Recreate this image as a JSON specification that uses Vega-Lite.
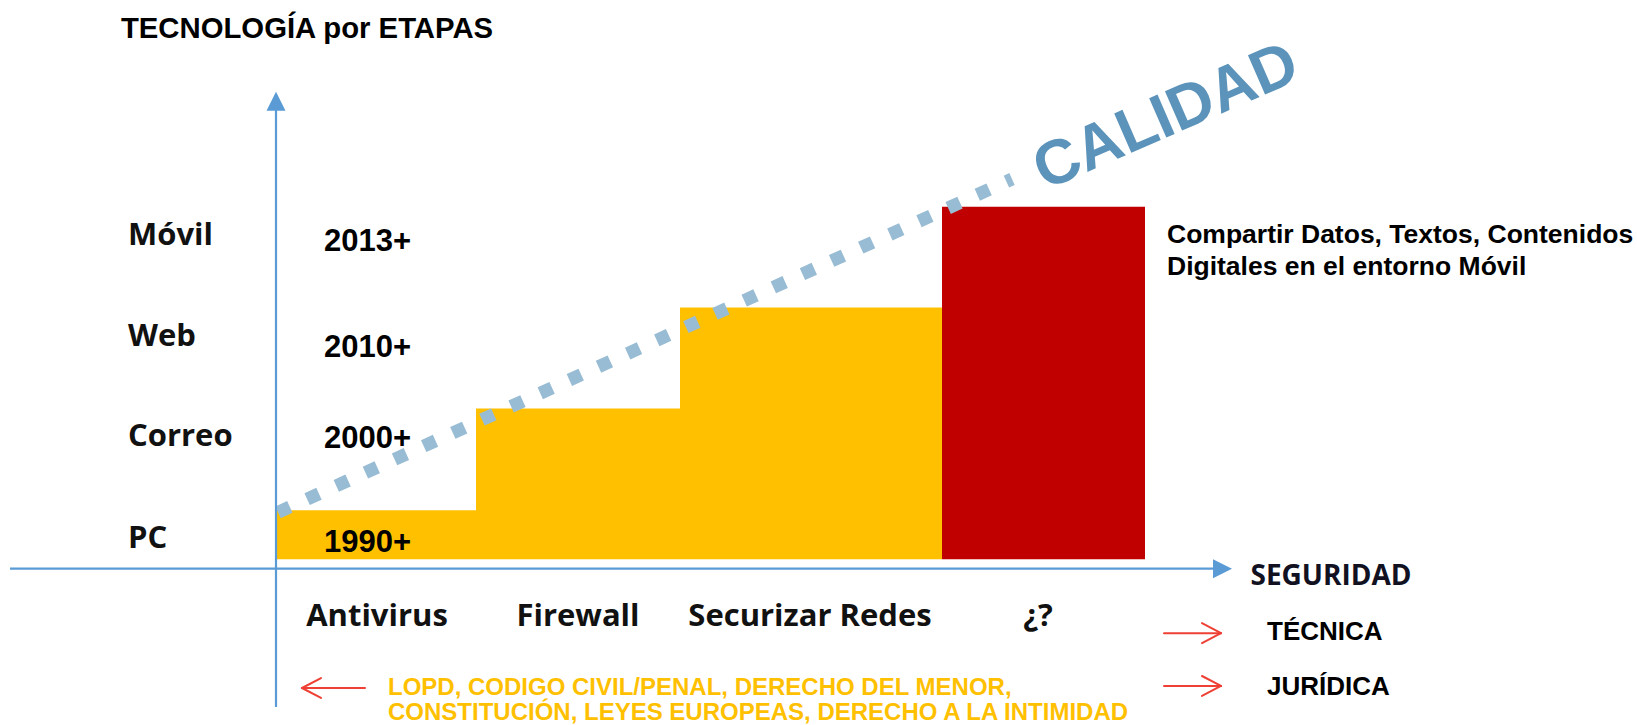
{
  "$schema": "https://vega.github.io/schema/vega-lite/v6.json",
  "width": 1637,
  "height": 725,
  "autosize": {"type": "fit", "contains": "padding"},
  "padding": 0,
  "background": "white",
  "config": {"view": {"stroke": null}},
  "datasets": {
    "etapas": [
      {"seguridad": "Antivirus", "tecnologia": "PC", "periodo": "1990+", "inicio": 0, "fin": 1.0, "nivel": 0.485, "medio": 0.505, "y_tec": 0.198, "y_periodo": 0.158, "estado": "conocida"},
      {"seguridad": "Firewall", "tecnologia": "Correo", "periodo": "2000+", "inicio": 1.0, "fin": 2.02, "nivel": 1.495, "medio": 1.51, "y_tec": 1.208, "y_periodo": 1.188, "estado": "conocida"},
      {"seguridad": "Securizar Redes", "tecnologia": "Web", "periodo": "2010+", "inicio": 2.02, "fin": 3.33, "nivel": 2.495, "medio": 2.67, "y_tec": 2.208, "y_periodo": 2.099, "estado": "conocida"},
      {"seguridad": "¿?", "tecnologia": "Móvil", "periodo": "2013+", "inicio": 3.33, "fin": 4.345, "nivel": 3.495, "medio": 3.81, "y_tec": 3.208, "y_periodo": 3.149, "estado": "incógnita"}
    ],
    "ejes": [
      {"eje": "vertical", "x": 0, "y": -1.465, "x2": 0, "y2": 4.6, "xp": 0, "yp": 4.634},
      {"eje": "horizontal", "x": -1.33, "y": -0.094, "x2": 4.76, "y2": -0.094, "xp": 4.78, "yp": -0.094}
    ],
    "flechas": [
      {"nombre": "técnica", "x": 4.44, "y": -0.733, "x2": 4.725, "y2": -0.733},
      {"nombre": "técnica", "x": 4.63, "y": -0.634, "x2": 4.725, "y2": -0.733},
      {"nombre": "técnica", "x": 4.63, "y": -0.832, "x2": 4.725, "y2": -0.733},
      {"nombre": "jurídica", "x": 4.44, "y": -1.257, "x2": 4.725, "y2": -1.257},
      {"nombre": "jurídica", "x": 4.63, "y": -1.158, "x2": 4.725, "y2": -1.257},
      {"nombre": "jurídica", "x": 4.63, "y": -1.356, "x2": 4.725, "y2": -1.257},
      {"nombre": "ley", "x": 0.445, "y": -1.277, "x2": 0.13, "y2": -1.277},
      {"nombre": "ley", "x": 0.225, "y": -1.178, "x2": 0.13, "y2": -1.277},
      {"nombre": "ley", "x": 0.225, "y": -1.376, "x2": 0.13, "y2": -1.277}
    ]
  },
  "layer": [
    {
      "data": {"name": "etapas"},
      "mark": {"type": "rect"},
      "encoding": {
        "x": {"field": "inicio", "type": "quantitative", "scale": {"domain": [-1.38, 6.805], "nice": false, "zero": false}, "axis": null},
        "x2": {"field": "fin"},
        "y": {"field": "nivel", "type": "quantitative", "scale": {"domain": [-1.634, 5.545], "nice": false, "zero": false}, "axis": null},
        "y2": {"datum": 0},
        "color": {"field": "estado", "type": "nominal", "scale": {"domain": ["conocida", "incógnita"], "range": ["#FFC000", "#C00000"]}, "legend": null}
      }
    },
    {
      "data": {"name": "etapas"},
      "mark": {"type": "text", "align": "left", "baseline": "middle", "font": "Open Sans", "fontWeight": "bold", "fontSize": 31, "color": "#111111"},
      "encoding": {
        "x": {"datum": -0.74, "type": "quantitative", "scale": {"domain": [-1.38, 6.805], "nice": false, "zero": false}, "axis": null},
        "y": {"field": "y_tec", "type": "quantitative", "scale": {"domain": [-1.634, 5.545], "nice": false, "zero": false}, "axis": null},
        "text": {"field": "tecnologia"}
      }
    },
    {
      "data": {"name": "etapas"},
      "mark": {"type": "text", "align": "left", "baseline": "middle", "font": "Liberation Sans", "fontWeight": "bold", "fontSize": 31, "color": "#000000"},
      "encoding": {
        "x": {"datum": 0.24, "type": "quantitative", "scale": {"domain": [-1.38, 6.805], "nice": false, "zero": false}, "axis": null},
        "y": {"field": "y_periodo", "type": "quantitative", "scale": {"domain": [-1.634, 5.545], "nice": false, "zero": false}, "axis": null},
        "text": {"field": "periodo"}
      }
    },
    {
      "data": {"name": "etapas"},
      "mark": {"type": "text", "align": "center", "baseline": "middle", "font": "Open Sans", "fontWeight": "bold", "fontSize": 31, "color": "#111111"},
      "encoding": {
        "x": {"field": "medio", "type": "quantitative", "scale": {"domain": [-1.38, 6.805], "nice": false, "zero": false}, "axis": null},
        "y": {"datum": -0.574, "type": "quantitative", "scale": {"domain": [-1.634, 5.545], "nice": false, "zero": false}, "axis": null},
        "text": {"field": "seguridad"}
      }
    },
    {
      "data": {"values": [{"x": 0.01, "y": 0.465, "x2": 3.68, "y2": 3.77}]},
      "mark": {"type": "rule", "color": "#98BCD4", "strokeWidth": 13, "strokeDash": [13, 19], "strokeCap": "butt"},
      "encoding": {
        "x": {"field": "x", "type": "quantitative", "scale": {"domain": [-1.38, 6.805], "nice": false, "zero": false}, "axis": null},
        "y": {"field": "y", "type": "quantitative", "scale": {"domain": [-1.634, 5.545], "nice": false, "zero": false}, "axis": null},
        "x2": {"field": "x2"},
        "y2": {"field": "y2"}
      }
    },
    {
      "data": {"name": "ejes"},
      "mark": {"type": "rule", "color": "#5B9BD5", "strokeWidth": 2.2},
      "encoding": {
        "x": {"field": "x", "type": "quantitative", "scale": {"domain": [-1.38, 6.805], "nice": false, "zero": false}, "axis": null},
        "y": {"field": "y", "type": "quantitative", "scale": {"domain": [-1.634, 5.545], "nice": false, "zero": false}, "axis": null},
        "x2": {"field": "x2"},
        "y2": {"field": "y2"}
      }
    },
    {
      "data": {"name": "ejes"},
      "mark": {"type": "point", "filled": true, "opacity": 1, "color": "#5B9BD5", "size": 361},
      "encoding": {
        "x": {"field": "xp", "type": "quantitative", "scale": {"domain": [-1.38, 6.805], "nice": false, "zero": false}, "axis": null},
        "y": {"field": "yp", "type": "quantitative", "scale": {"domain": [-1.634, 5.545], "nice": false, "zero": false}, "axis": null},
        "shape": {"field": "eje", "type": "nominal", "scale": {"domain": ["vertical", "horizontal"], "range": ["M0,0L1,2L-1,2Z", "M0,0L-2,-1L-2,1Z"]}, "legend": null}
      }
    },
    {
      "data": {"name": "flechas"},
      "mark": {"type": "rule", "color": "#EE4035", "strokeWidth": 2, "strokeCap": "round"},
      "encoding": {
        "x": {"field": "x", "type": "quantitative", "scale": {"domain": [-1.38, 6.805], "nice": false, "zero": false}, "axis": null},
        "y": {"field": "y", "type": "quantitative", "scale": {"domain": [-1.634, 5.545], "nice": false, "zero": false}, "axis": null},
        "x2": {"field": "x2"},
        "y2": {"field": "y2"}
      }
    },
    {
      "data": {"values": [{"texto": "CALIDAD", "x": 4.45, "y": 4.386}]},
      "mark": {"type": "text", "align": "center", "baseline": "middle", "font": "Liberation Sans", "fontWeight": "bold", "fontSize": 62.5, "angle": -23.5, "color": "#5B93BA"},
      "encoding": {
        "x": {"field": "x", "type": "quantitative", "scale": {"domain": [-1.38, 6.805], "nice": false, "zero": false}, "axis": null},
        "y": {"field": "y", "type": "quantitative", "scale": {"domain": [-1.634, 5.545], "nice": false, "zero": false}, "axis": null},
        "text": {"field": "texto"}
      }
    },
    {
      "data": {"values": [{"texto": "TECNOLOGÍA por ETAPAS", "x": 0.155, "y": 5.257}]},
      "mark": {"type": "text", "align": "center", "baseline": "middle", "font": "Liberation Sans", "fontWeight": "bold", "fontSize": 29.3, "color": "#000000"},
      "encoding": {
        "x": {"field": "x", "type": "quantitative", "scale": {"domain": [-1.38, 6.805], "nice": false, "zero": false}, "axis": null},
        "y": {"field": "y", "type": "quantitative", "scale": {"domain": [-1.634, 5.545], "nice": false, "zero": false}, "axis": null},
        "text": {"field": "texto"}
      }
    },
    {
      "data": {"values": [
        {"texto": "Compartir Datos, Textos, Contenidos", "x": 4.455, "y": 3.218},
        {"texto": "Digitales en el entorno Móvil", "x": 4.455, "y": 2.901}
      ]},
      "mark": {"type": "text", "align": "left", "baseline": "middle", "font": "Liberation Sans", "fontWeight": "bold", "fontSize": 26.5, "color": "#000000"},
      "encoding": {
        "x": {"field": "x", "type": "quantitative", "scale": {"domain": [-1.38, 6.805], "nice": false, "zero": false}, "axis": null},
        "y": {"field": "y", "type": "quantitative", "scale": {"domain": [-1.634, 5.545], "nice": false, "zero": false}, "axis": null},
        "text": {"field": "texto"}
      }
    },
    {
      "data": {"values": [
        {"texto": "TÉCNICA", "x": 4.955, "y": -0.723},
        {"texto": "JURÍDICA", "x": 4.955, "y": -1.267}
      ]},
      "mark": {"type": "text", "align": "left", "baseline": "middle", "font": "Liberation Sans", "fontWeight": "bold", "fontSize": 26, "color": "#000000"},
      "encoding": {
        "x": {"field": "x", "type": "quantitative", "scale": {"domain": [-1.38, 6.805], "nice": false, "zero": false}, "axis": null},
        "y": {"field": "y", "type": "quantitative", "scale": {"domain": [-1.634, 5.545], "nice": false, "zero": false}, "axis": null},
        "text": {"field": "texto"}
      }
    },
    {
      "data": {"values": [{"texto": "SEGURIDAD", "x": 5.275, "y": -0.18}]},
      "mark": {"type": "text", "align": "center", "baseline": "middle", "font": "Open Sans", "fontWeight": "bold", "fontSize": 28, "color": "#111122"},
      "encoding": {
        "x": {"field": "x", "type": "quantitative", "scale": {"domain": [-1.38, 6.805], "nice": false, "zero": false}, "axis": null},
        "y": {"field": "y", "type": "quantitative", "scale": {"domain": [-1.634, 5.545], "nice": false, "zero": false}, "axis": null},
        "text": {"field": "texto"}
      }
    },
    {
      "data": {"values": [
        {"texto": "LOPD, CODIGO CIVIL/PENAL, DERECHO DEL MENOR,", "x": 0.56, "y": -1.277},
        {"texto": "CONSTITUCIÓN, LEYES EUROPEAS, DERECHO A LA INTIMIDAD", "x": 0.56, "y": -1.525}
      ]},
      "mark": {"type": "text", "align": "left", "baseline": "middle", "font": "Liberation Sans", "fontWeight": "bold", "fontSize": 24, "color": "#FFC000"},
      "encoding": {
        "x": {"field": "x", "type": "quantitative", "scale": {"domain": [-1.38, 6.805], "nice": false, "zero": false}, "axis": null},
        "y": {"field": "y", "type": "quantitative", "scale": {"domain": [-1.634, 5.545], "nice": false, "zero": false}, "axis": null},
        "text": {"field": "texto"}
      }
    }
  ]
}
